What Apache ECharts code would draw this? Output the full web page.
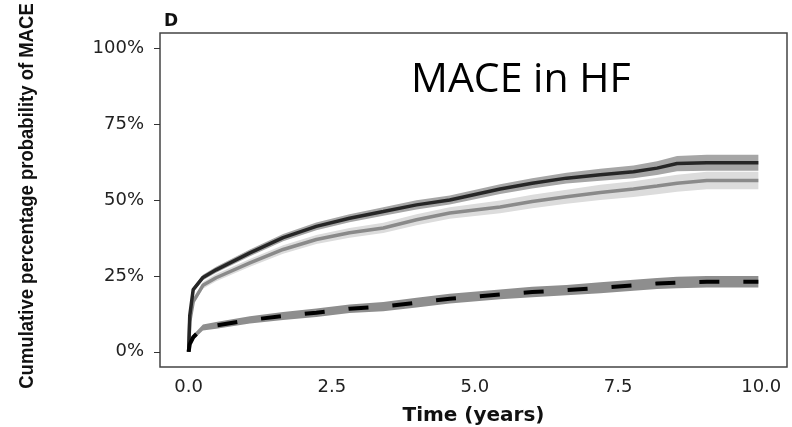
<!DOCTYPE html>
<html>
<head>
<meta charset="utf-8">
<script src="https://cdn.jsdelivr.net/npm/echarts@6/dist/echarts.min.js"></script>
<style>
  html, body { margin: 0; padding: 0; background: #fff; }
  #chart { width: 792px; height: 427px; }
</style>
</head>
<body>
<div id="chart"></div>
<script>
// sample times (years)
const times = [0, 0.02, 0.08, 0.25, 0.48, 1.07, 1.65, 2.23, 2.81, 3.4, 3.98, 4.56, 5.44, 6.0, 6.6, 7.19, 7.77, 8.18, 8.53, 9.05, 9.95]

// top curve, dark line
const darkMid = [0, 12, 20.5, 24.5, 27, 32.6, 37.6, 41.3, 44, 46.2, 48.4, 50, 53.6, 55.5, 57.2, 58.3, 59.3, 60.5, 62, 62.3, 62.3]
const darkLo = [0, 11.3, 19.7, 23.6, 26, 31.5, 36.4, 40, 42.7, 44.8, 46.9, 48.5, 52, 53.8, 55.4, 56.3, 57.2, 58.2, 59.5, 59.6, 59.6]
const darkHi = [0, 12.7, 21.3, 25.4, 28, 33.7, 38.8, 42.6, 45.3, 47.6, 49.9, 51.5, 55.2, 57.2, 59, 60.3, 61.4, 62.8, 64.5, 64.9, 64.9]

// second curve, grey line
const greyMid = [0, 10, 16.5, 21.9, 24.4, 29.3, 33.7, 37, 39.2, 40.8, 43.5, 45.7, 47.7, 49.5, 51.1, 52.5, 53.6, 54.6, 55.5, 56.4, 56.4]
const greyLo = [0, 9.2, 15.5, 20.8, 23.2, 28, 32.3, 35.5, 37.6, 39.1, 41.7, 43.8, 45.6, 47.3, 48.8, 50, 51, 51.9, 52.7, 53.5, 53.5]
const greyHi = [0, 10.8, 17.5, 23, 25.6, 30.6, 35.1, 38.5, 40.8, 42.5, 45.3, 47.6, 49.8, 51.7, 53.4, 55, 56.2, 57.3, 58.3, 59.3, 59.3]

// bottom curve, dashed line
const dashMid = [0, 2.5, 4.8, 8, 8.7, 10.5, 11.8, 12.9, 14.2, 14.9, 16.2, 17.5, 18.9, 19.7, 20.3, 21.1, 21.9, 22.5, 22.8, 23.1, 23.1]
const dashLo = [0, 1.8, 4, 7, 7.6, 9.3, 10.5, 11.5, 12.8, 13.4, 14.6, 15.9, 17.3, 18, 18.6, 19.3, 20.1, 20.7, 20.9, 21.2, 21.2]
const dashHi = [0, 3.2, 5.6, 9, 9.8, 11.7, 13.1, 14.3, 15.6, 16.4, 17.8, 19.1, 20.5, 21.4, 22, 22.9, 23.7, 24.3, 24.7, 25, 25]

const xTicks = [0, 2.5, 5, 7.5, 10]
const yTicks = [0, 25, 50, 75, 100]

const pairs = (ys) => times.map((t, i) => [t, ys[i]])

// confidence band as a polygon: upper edge forward, lower edge back
function band(name, lo, hi, color) {
  return {
    name: name, type: 'custom', silent: true, clip: true,
    data: [[0, 0]],
    renderItem: (params, api) => {
      const pts = times.map((t, i) => api.coord([t, hi[i]]))
      for (let i = times.length - 1; i >= 0; i--) pts.push(api.coord([times[i], lo[i]]))
      return {type: 'polygon', shape: {points: pts}, style: {fill: color}}
    }
  }
}

const chart = echarts.init(document.getElementById('chart'))

chart.setOption({
  animation: false,
  grid: {
    left: 160, right: 5, top: 33, bottom: 60, outerBoundsMode: 'none', containLabel: false,
    show: true, borderColor: '#444', borderWidth: 1.5
  },
  graphic: [
    {
      type: 'text', left: 164, top: 13,
      style: {text: 'D', font: 'bold 17px "DejaVu Sans"', fill: '#111'}
    },
    {
      type: 'text', left: 411, top: 60,
      style: {text: 'MACE in HF', font: '41px "Open Sans", "Noto Sans"', fill: '#000'}
    },
    {
      type: 'text', x: 27, y: 196, rotation: Math.PI / 2, scaleX: 0.925,
      style: {
        text: 'Cumulative percentage probability of MACE',
        font: 'bold 20px "Liberation Sans"', fill: '#111',
        align: 'center', verticalAlign: 'middle'
      }
    }
  ],
  xAxis: {
    type: 'value', min: -0.5, max: 10.45,
    name: 'Time (years)', nameLocation: 'middle', nameGap: 39,
    nameTextStyle: {fontFamily: 'DejaVu Sans', fontWeight: 'bold', fontSize: 20, color: '#111'},
    axisLine: {show: false, onZero: false}, axisTick: {show: false}, splitLine: {show: false},
    axisLabel: {
      customValues: xTicks, margin: 11, fontFamily: 'DejaVu Sans', fontSize: 18, color: '#222',
      formatter: v => v.toFixed(1)
    }
  },
  yAxis: {
    type: 'value', min: -5, max: 105,
    axisLine: {show: false, onZero: false}, splitLine: {show: false},
    axisTick: {show: true, customValues: yTicks, length: 6, lineStyle: {color: '#333'}},
    axisLabel: {
      customValues: yTicks, margin: 16, fontFamily: 'DejaVu Sans', fontSize: 18, color: '#222',
      formatter: v => v + '%'
    }
  },
  series: [
    band('greyBand', greyLo, greyHi, '#dcdcdc'),
    band('darkBand', darkLo, darkHi, '#a6a6a6'),
    band('dashBand', dashLo, dashHi, '#8e8e8e'),
    {
      name: 'Grey', type: 'line', data: pairs(greyMid), symbol: 'none',
      lineStyle: {color: '#8a8a8a', width: 3.5}
    },
    {
      name: 'Dark', type: 'line', data: pairs(darkMid), symbol: 'none',
      lineStyle: {color: '#262626', width: 3.5}
    },
    {
      name: 'Dashed', type: 'line', data: pairs(dashMid), symbol: 'none',
      lineStyle: {color: '#000', width: 4, type: [20, 24]}
    }
  ]
})
</script>
</body>
</html>
